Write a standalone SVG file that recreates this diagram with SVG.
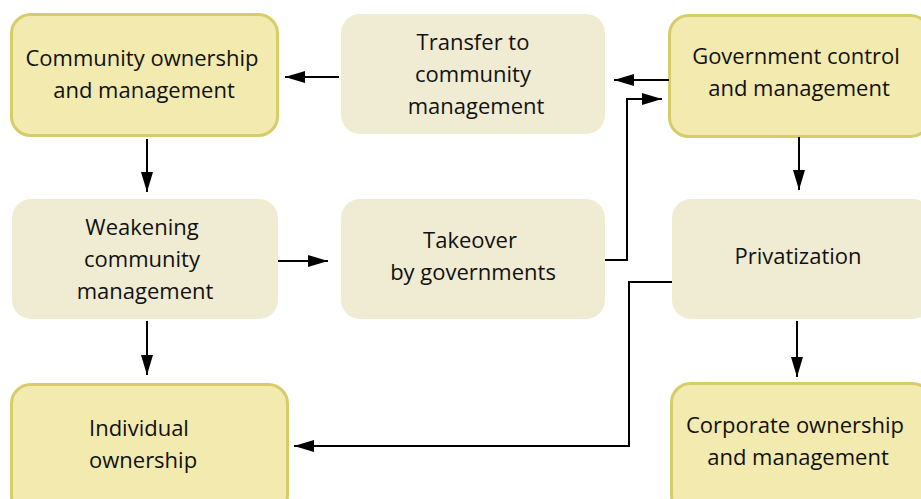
<svg xmlns="http://www.w3.org/2000/svg" width="921" height="499" viewBox="0 0 921 499">
  <defs>
    <marker id="arrow" markerUnits="userSpaceOnUse" markerWidth="20" markerHeight="12" viewBox="0 0 20 12" refX="20" refY="6" orient="auto">
      <path d="M0,0 L20,6 L0,12 Z" fill="#000"/>
    </marker>
    <style>
      .strong { fill: #f2eaae; stroke: #d7cc6a; stroke-width: 3; }
      .soft { fill: #f0ecd3; stroke: none; }
      .label { font-family: "Open Sans", "Noto Sans", "Liberation Sans", sans-serif; font-size: 22px; fill: #111; text-anchor: middle; }
      .left { text-anchor: start; }
      .link { fill: none; stroke: #000; stroke-width: 2; marker-end: url(#arrow); }
    </style>
  </defs>
  <rect width="921" height="499" fill="#fff"/>

  <g id="community-ownership">
    <rect class="strong" x="11.5" y="14.5" width="266" height="121" rx="19"/>
    <text class="label" x="142" y="66">Community ownership</text>
    <text class="label" x="144" y="98">and management</text>
  </g>

  <g id="transfer">
    <rect class="soft" x="341" y="14" width="264" height="120" rx="19"/>
    <text class="label" x="473" y="50">Transfer to</text>
    <text class="label" x="473" y="82">community</text>
    <text class="label" x="476" y="114">management</text>
  </g>

  <g id="government-control">
    <rect class="strong" x="669.5" y="15.5" width="260" height="121" rx="19"/>
    <text class="label" x="796" y="64">Government control</text>
    <text class="label" x="799" y="96">and management</text>
  </g>

  <g id="weakening">
    <rect class="soft" x="12" y="199" width="266" height="120" rx="19"/>
    <text class="label" x="142" y="235">Weakening</text>
    <text class="label" x="142" y="267">community</text>
    <text class="label" x="145" y="299">management</text>
  </g>

  <g id="takeover">
    <rect class="soft" x="341" y="199" width="264" height="120" rx="19"/>
    <text class="label" x="470" y="248">Takeover</text>
    <text class="label" x="473" y="280">by governments</text>
  </g>

  <g id="privatization">
    <rect class="soft" x="672" y="199" width="260" height="120" rx="19"/>
    <text class="label" x="798" y="264">Privatization</text>
  </g>

  <g id="individual-ownership">
    <rect class="strong" x="11.5" y="384.5" width="276" height="130" rx="19"/>
    <text class="label left" x="89" y="436">Individual</text>
    <text class="label left" x="89" y="468">ownership</text>
  </g>

  <g id="corporate-ownership">
    <rect class="strong" x="671.5" y="383.5" width="260" height="130" rx="19"/>
    <text class="label" x="795" y="433">Corporate ownership</text>
    <text class="label" x="798" y="465">and management</text>
  </g>

  <g id="connectors">
    <path class="link" d="M339,77 H285"/>
    <path class="link" d="M669,80 H614"/>
    <path class="link" d="M605,260 H627 V99 H662"/>
    <path class="link" d="M147,139 V192"/>
    <path class="link" d="M278,261 H328"/>
    <path class="link" d="M147,321 V375"/>
    <path class="link" d="M799,137 V190"/>
    <path class="link" d="M797,321 V377"/>
    <path class="link" d="M672,282 H629 V446 H294"/>
  </g>
</svg>
